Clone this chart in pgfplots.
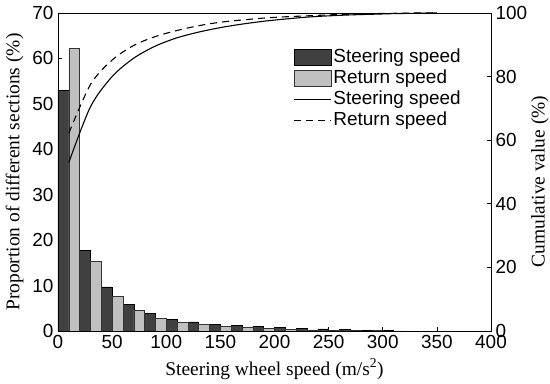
\documentclass[border=0pt]{standalone}
\usepackage{pgfplots}
\pgfplotsset{compat=1.18}
\usepackage{fontspec}
\setmainfont{Liberation Serif}
\setsansfont{Liberation Sans}
\definecolor{darkbar}{RGB}{64,64,64}
\definecolor{lightbar}{RGB}{192,192,192}
\begin{document}
\fontsize{19}{22}\selectfont
\begin{tikzpicture}
\pgfplotsset{
  every axis/.append style={
    scale only axis, width=433bp, height=318bp,
    xmin=0, xmax=400,
    tick align=inside, major tick length=4bp,
    /pgf/number format/assume math mode=true,
    tick label style={font=\fontsize{19}{22}\selectfont\sffamily},
    label style={font=\fontsize{19.5}{22}\selectfont\rmfamily},
    axis line style={line width=0.7pt},
    every tick/.style={line width=0.7pt, black},
  }
}
\begin{axis}[name=main, ymin=0, ymax=70, ytick={0,10,...,70}, xtick={0,50,...,400},
  xtick pos=bottom, ytick pos=left,
  xlabel={Steering wheel speed (m/s\textsuperscript{2})},
  ylabel={Proportion of different sections (\%)},
  xlabel style={yshift=3bp},
  ylabel style={yshift=-4bp},
  xticklabel style={yshift=2bp}, yticklabel style={xshift=2bp}]
\addplot[ybar, bar width=10, bar shift=0pt, fill=darkbar, draw=black, line width=0.5pt] coordinates {
(5,53.0) (25,17.8) (45,9.7) (65,5.9) (85,3.85) (105,2.6) (125,2.0) (145,1.5)
(165,1.2) (185,1.0) (205,0.8) (225,0.55) (245,0.45) (265,0.3) (285,0.2) (305,0.15)};
\addplot[ybar, bar width=10, bar shift=0pt, fill=lightbar, draw=black!80, line width=0.5pt] coordinates {
(15,62.2) (35,15.3) (55,7.7) (75,4.6) (95,2.85) (115,1.9) (135,1.5) (155,1.1)
(175,0.75) (195,0.5) (215,0.35) (235,0.25) (255,0.15) (275,0.1) (295,0.08) (315,0.05)};
\end{axis}
\begin{axis}[ymin=0, ymax=100, ytick={0,20,...,100},
  axis y line*=right, axis x line=none, ytick pos=right,
  ylabel={Cumulative value (\%)},
  ylabel style={at={(axis description cs:1.113,0.47)}, anchor=center, rotate=0},
  yticklabel style={xshift=-2bp},
  legend style={at={(0.543,0.893)}, anchor=north west, draw=none, fill=none,
    font=\fontsize{19}{22}\selectfont\sffamily, inner sep=0pt, row sep=1.5bp,
    nodes={inner xsep=2bp, inner ysep=1.5bp}},
  legend cell align=left]
\addlegendimage{legend image code/.code={\draw[fill=darkbar,draw=black,line width=0.5pt] (0bp,-8bp) rectangle (37bp,8bp);}}
\addlegendentry{Steering speed}
\addlegendimage{legend image code/.code={\draw[fill=lightbar,draw=black!80,line width=0.5pt] (0bp,-8bp) rectangle (37bp,8bp);}}
\addlegendentry{Return speed}
\addplot[black, line width=1.1pt, smooth, tension=0.5,
  legend image code/.code={\draw[black, line width=1.1pt] (0bp,0bp) -- (37bp,0bp);}] coordinates {
(10,53.0) (30,70.5) (50,80.0) (70,85.8) (90,89.6) (110,92.2) (130,94.0) (150,95.4)
(170,96.5) (190,97.4) (210,98.1) (230,98.7) (250,99.1) (270,99.4) (290,99.6) (310,99.8) (330,99.9) (350,100)};
\addlegendentry{Steering speed}
\addplot[black, line width=1.1pt, smooth, tension=0.5, dash pattern=on 7bp off 5bp,
  legend image code/.code={\draw[black, line width=1.1pt, dash pattern=on 7bp off 5bp] (0bp,0bp) -- (37bp,0bp);}] coordinates {
(10,62.2) (30,77.5) (50,85.2) (70,89.8) (90,92.6) (110,94.5) (130,96.0) (150,97.1)
(170,97.8) (190,98.4) (210,98.8) (230,99.1) (250,99.4) (270,99.6) (290,99.8) (310,99.9) (330,100) (350,100)};
\addlegendentry{Return speed}
\end{axis}
\pgfresetboundingbox
\path[use as bounding box] ([xshift=-58bp,yshift=-53bp]main.south west) rectangle ([xshift=59bp,yshift=13bp]main.north east);
\end{tikzpicture}
\end{document}
